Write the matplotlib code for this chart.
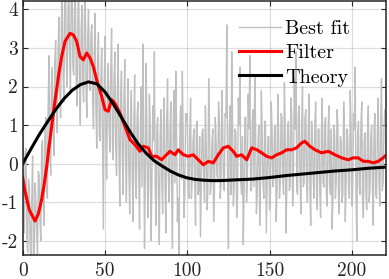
import matplotlib.pyplot as plt
import numpy as np

plt.rcParams["font.family"] = ["cmr10", "DejaVu Serif"]
plt.rcParams["axes.unicode_minus"] = False
plt.rcParams["mathtext.fontset"] = "cm"

# "Best fit" samples at integer x (0 .. 220)
best_fit = [
    0.9, -1.8, 0.4, -2.3, -0.6, -2.5, 0.2, -2.6, -1.0, -2.4,
    -0.3, -2.0, 0.6, -1.6, 1.2, -0.9, 2.8, -0.3, 2.5, 0.2,
    3.2, 0.8, 3.8, 1.2, 4.5, 1.6, 4.8, 2.0, 4.6, 1.9,
    5.0, 2.3, 4.4, 1.5, 4.7, 1.0, 4.1, 1.6, 4.5, 1.2,
    4.0, 1.9, 3.6, 0.9, 3.9, 0.4, 3.4, 0.6, 3.0, -1.7,
    3.3, -0.4, 2.6, 0.3, 3.5, 0.1, 2.9, -0.3, 3.1, -1.1,
    2.4, -0.8, 2.7, -1.0, 2.2, -1.3, 1.9, -1.5, 2.3, -0.9,
    1.6, -1.7, 2.0, 3.1, -2.2, 2.6, -1.4, 1.8, -2.0, 1.5,
    2.9, -1.6, 1.2, -2.1, 1.4, -1.3, 1.7, -1.8, 2.2, -1.0,
    1.6, -2.2, 1.9, 2.4, -1.5, -2.4, 1.5, 2.4, -1.4, 1.3,
    1.3, -0.9, 1.7, -0.4, 0.9, -1.6, 1.1, -0.7, -1.9, 0.8,
    -0.5, 1.5, -1.2, 2.2, -0.8, 0.6, -1.5, 1.2, -0.3, 1.6,
    -0.9, 1.9, -0.6, 1.3, 3.6, -2.2, 1.5, 2.9, -1.1, 0.9,
    -1.4, 1.7, 2.5, -0.8, -2.1, 1.2, -1.0, 1.8, 2.8, -0.7,
    1.4, 2.3, -1.3, 0.6, -1.6, 1.9, -0.5, 1.1, -1.8, 0.7,
    -1.2, 1.6, -0.6, 0.9, -1.5, 1.8, -0.9, 1.3, -0.4, 2.1,
    -1.8, 1.0, -0.7, 1.7, -1.1, 2.2, 2.9, -0.8, 1.5, -1.3,
    2.0, -0.5, 1.4, -1.0, 1.8, -1.6, 0.8, -0.9, 1.6, -1.2,
    0.9, -1.4, 1.7, -0.6, 1.2, -1.1, 1.5, -0.8, -1.7, 1.0,
    -0.9, 1.4, -1.3, 0.7, -1.0, 1.6, -1.5, 0.9, -0.6, 1.9,
    -1.1, 1.3, 2.5, -2.0, 1.1, -0.8, 1.6, -1.4, 0.8, -1.2,
    1.5, -0.7, 1.0, -1.6, 1.3, -0.9, 1.7, -1.1, 2.2, -0.5,
    1.4,
]
# "Best fit" samples in between (x = 0.5 .. 219.5)
best_fit_half = [
    -1.2, 0.3, -1.9, -0.4, -2.1, -0.9, -2.4, -0.5, -1.8, -0.2,
    -1.5, 0.4, -1.1, 0.8, -0.6, 1.6, 0.3, 2.1, 0.9, 2.6,
    1.5, 3.0, 2.0, 3.6, 2.4, 4.2, 2.6, 3.9, 2.8, 4.4,
    2.5, 4.0, 2.2, 3.7, 1.9, 3.5, 2.1, 3.8, 1.8, 3.3,
    2.2, 3.4, 1.6, 3.0, 1.3, 2.5, 0.8, 2.2, 0.5, 2.1,
    0.7, 1.9, 0.9, 2.4, 0.6, 2.2, 0.4, 1.8, 0.2, 1.7,
    0.3, 1.5, 0.1, 1.2, -0.2, 1.1, -0.3, 0.9, -0.5, 1.2,
    -0.4, 1.0, -0.6, 1.1, -0.3, 0.8, -0.7, 0.9, -0.5, 0.6,
    -0.6, 0.9, -0.8, 0.7, -0.4, 1.0, -0.7, 1.1, -0.3, 0.9,
    -0.8, 1.2, -0.5, 0.8, -0.9, 1.0, -0.4, 0.7, -0.8, 1.1,
    -0.6, 0.8, -0.9, 0.6, -0.5, 1.0, -0.8, 0.7, -0.6, 0.9,
    -1.0, 0.5, -0.7, 0.8, -0.5, 0.9, -0.8, 0.6, -0.4, 1.1,
    -0.5, 1.0, -0.7, 1.2, -0.4, 0.9, -0.8, 1.1, -0.6, 0.8,
    -0.9, 1.0, -0.5, 0.7, -0.8, 1.2, -0.4, 0.9, -0.7, 1.1,
    -0.6, 0.9, -0.8, 1.0, -0.5, 0.8, -0.9, 1.1, -0.6, 0.7,
    -0.8, 0.9, -0.4, 1.0, -0.7, 0.8, -0.5, 1.2, -0.8, 0.9,
    -0.5, 1.1, -0.6, 1.2, -0.4, 0.9, -0.7, 1.3, -0.3, 1.0,
    -0.6, 1.2, -0.5, 0.9, -0.7, 1.1, -0.4, 1.0, -0.6, 0.9,
    -0.7, 0.8, -0.5, 1.0, -0.8, 0.7, -0.6, 0.9, -0.9, 0.8,
    -0.5, 1.0, -0.7, 0.6, -0.8, 0.9, -0.6, 0.7, -0.9, 1.0,
    -0.7, 0.9, -0.8, 0.7, -0.6, 1.0, -0.9, 0.6, -0.7, 0.8,
    -1.0, 0.7, -0.6, 0.9, -0.8, 0.8, -0.5, 1.0, -0.7, 0.9,
]

filter_x = [0, 1.4, 4, 7.5, 9.5, 11.5, 13, 14.6, 16, 17.6, 19, 20.6, 22, 23.7, 25.7,
            28.7, 30.8, 32.8, 34.8, 36.8, 38.9, 40.9, 42.9, 44.9, 48, 50, 52, 54, 56,
            59.1, 62.1, 65.2, 68.2, 71.3, 73.3, 76.3, 78.3, 81.4, 84.4, 86.4, 89.5,
            92.5, 94.5, 97.6, 100.6, 103.6, 106.7, 109.7, 112.8, 115.8, 118.8, 121.9,
            124.9, 127.9, 130, 133, 136.1, 139.1, 142.2, 145.2, 148.2, 151.3, 154.3,
            157.3, 160.4, 163.4, 166.4, 169.5, 171.5, 174.5, 177.6, 181.6, 185.7,
            189.7, 193.8, 197.8, 200.8, 203.9, 206.9, 209.9, 213, 216, 219, 221]
filter_y = [-0.37, -0.72, -1.2, -1.49, -1.3, -0.93, -0.55, -0.07, 0.45, 0.97, 1.45, 1.92,
            2.35, 2.78, 3.17, 3.38, 3.34, 3.17, 2.78, 2.69, 2.87, 2.74, 2.52, 2.18, 1.74,
            1.40, 1.36, 1.66, 1.57, 1.31, 0.97, 0.62, 0.49, 0.32, 0.45, 0.41, 0.19, 0.19,
            0.10, 0.19, 0.32, 0.23, 0.36, 0.23, 0.19, 0.23, 0.10, -0.03, 0.06, 0.02,
            0.23, 0.41, 0.45, 0.32, 0.19, 0.23, 0.10, 0.41, 0.36, 0.28, 0.19, 0.15, 0.23,
            0.28, 0.36, 0.36, 0.41, 0.54, 0.58, 0.45, 0.36, 0.28, 0.32, 0.23, 0.15, 0.10,
            0.15, 0.15, 0.06, 0.06, 0.02, 0.06, 0.15, 0.23]

theory_x = [0, 5, 10, 15, 20, 25, 30, 35, 40, 45, 50, 55, 60, 65, 70, 75, 80, 85, 90,
            95, 100, 105, 110, 115, 120, 125, 130, 140, 150, 160, 170, 180, 190, 200,
            210, 221]
theory_y = [0.0, 0.38, 0.75, 1.08, 1.40, 1.68, 1.90, 2.05, 2.12, 2.07, 1.86, 1.55, 1.20,
            0.84, 0.52, 0.27, 0.07, -0.07, -0.20, -0.30, -0.37, -0.41, -0.43, -0.44,
            -0.44, -0.43, -0.42, -0.40, -0.36, -0.31, -0.27, -0.23, -0.19, -0.16, -0.12,
            -0.09]

# merge the two sample sets in x order
bx = np.concatenate([np.arange(len(best_fit)), np.arange(len(best_fit_half)) + 0.5])
by = np.concatenate([best_fit, best_fit_half])
order = np.argsort(bx)
bx, by = bx[order], by[order]

fig = plt.figure(figsize=(3.89, 2.79), dpi=100)
ax = fig.add_axes([0.0584, 0.086, 0.935, 0.912])

ax.plot(bx, by, color="#c0c0c0", lw=1.0, label="Best fit")
ax.plot(filter_x, filter_y, color="#ff0000", lw=2.2, label="Filter")
ax.plot(theory_x, theory_y, color="k", lw=2.2, label="Theory")

ax.set_xlim(0, 221)
ax.set_ylim(-2.37, 4.23)
ax.set_xticks([0, 50, 100, 150, 200])
ax.set_yticks([-2, -1, 0, 1, 2, 3, 4])
ax.set_yticklabels(["-2", "-1", "0", "1", "2", "3", "4"])

ax.grid(True, color="k", alpha=0.13, lw=0.9)
ax.set_axisbelow(True)
ax.tick_params(direction="in", length=3.5, width=0.8, top=True, right=True,
               labelsize=14, colors="#262626")
ax.tick_params(axis="x", pad=5)
for s in ax.spines.values():
    s.set_color("#262626")
    s.set_linewidth(1.1)

ax.legend(loc="upper left", frameon=False, fontsize=14.5, handlelength=2.1,
          handletextpad=0.2, labelspacing=0.3, borderaxespad=0, borderpad=0,
          bbox_to_anchor=(0.595, 0.923))

fig.savefig("out.png", dpi=100)
